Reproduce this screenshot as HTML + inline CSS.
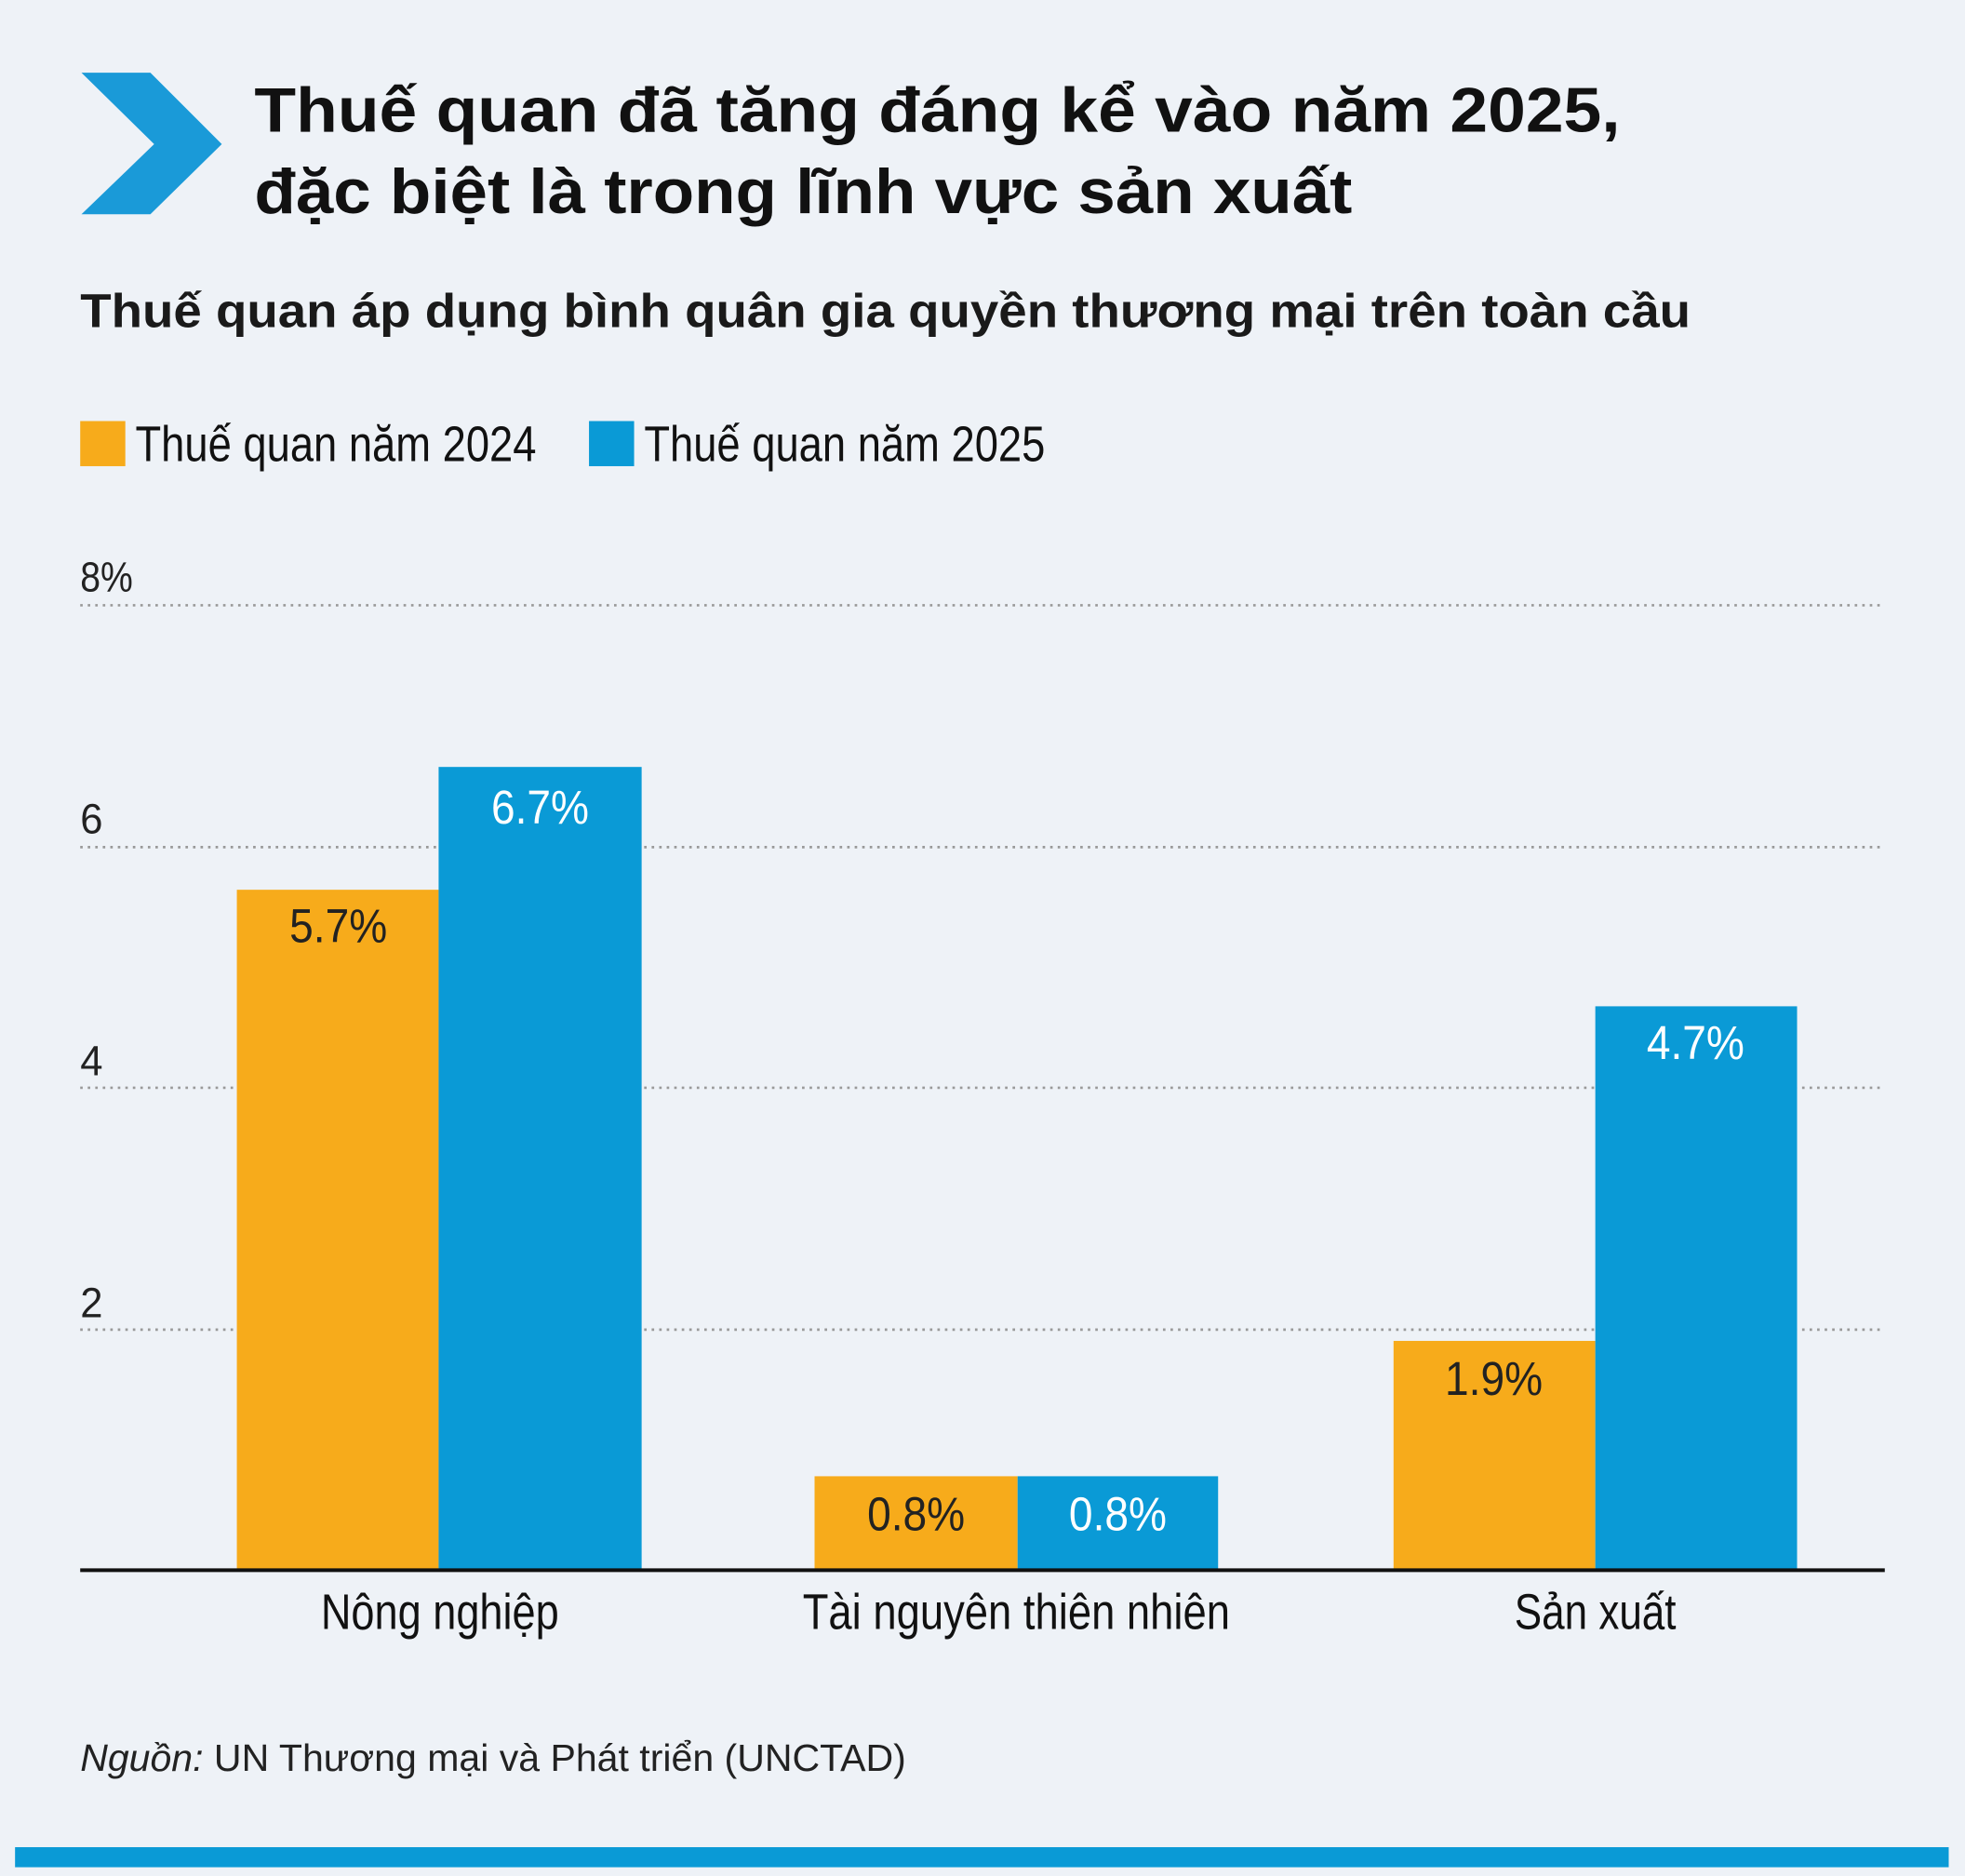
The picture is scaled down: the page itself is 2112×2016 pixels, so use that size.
<!DOCTYPE html>
<html><head><meta charset="utf-8"><style>
html,body{margin:0;padding:0;background:#eef2f7;}
svg{display:block;}
.t{font-family:"Liberation Sans","Noto Sans CJK SC",sans-serif;}
.n{font-family:"Liberation Sans Narrow","Liberation Sans",sans-serif;}
</style></head><body>
<svg width="2112" height="2016" viewBox="0 0 1568 1497" preserveAspectRatio="none" xmlns="http://www.w3.org/2000/svg">
<rect width="1568" height="1497" fill="#eef2f7"/>
<polygon points="65,58 120,58 177,115 120,171 65,171 123,115" fill="#1a9ad8"/>
<text class="t" x="203" y="105" font-size="50" font-weight="bold" fill="#111" textLength="1090" lengthAdjust="spacingAndGlyphs">Thuế quan đã tăng đáng kể vào năm 2025,</text>
<text class="t" x="203" y="170" font-size="50" font-weight="bold" fill="#111" textLength="876" lengthAdjust="spacingAndGlyphs">đặc biệt là trong lĩnh vực sản xuất</text>
<text class="t" x="64" y="261" font-size="38" font-weight="bold" fill="#1a1a1a" textLength="1285" lengthAdjust="spacingAndGlyphs">Thuế quan áp dụng bình quân gia quyền thương mại trên toàn cầu</text>
<rect x="64" y="336" width="36" height="36" fill="#f7ab1b"/>
<text class="n" x="108" y="368" font-size="40" fill="#111" textLength="320" lengthAdjust="spacingAndGlyphs">Thuế quan năm 2024</text>
<rect x="470" y="336" width="36" height="36" fill="#0a9ad6"/>
<text class="n" x="514" y="368" font-size="40" fill="#111" textLength="320" lengthAdjust="spacingAndGlyphs">Thuế quan năm 2025</text>
<g stroke="#999" stroke-width="2" stroke-dasharray="2,4">
<line x1="64" y1="483" x2="1502" y2="483"/>
<line x1="64" y1="676" x2="1502" y2="676"/>
<line x1="64" y1="868" x2="1502" y2="868"/>
<line x1="64" y1="1061" x2="1502" y2="1061"/>
</g>
<g class="n" font-size="34" fill="#222">
<text x="64" y="472" textLength="42" lengthAdjust="spacingAndGlyphs">8%</text>
<text x="64" y="665" textLength="18" lengthAdjust="spacingAndGlyphs">6</text>
<text x="64" y="858" textLength="18" lengthAdjust="spacingAndGlyphs">4</text>
<text x="64" y="1051" textLength="18" lengthAdjust="spacingAndGlyphs">2</text>
</g>
<rect x="189" y="710" width="161" height="543" fill="#f7ab1b"/>
<rect x="350" y="612" width="162" height="641" fill="#0a9ad6"/>
<rect x="650" y="1178" width="162" height="75" fill="#f7ab1b"/>
<rect x="812" y="1178" width="160" height="75" fill="#0a9ad6"/>
<rect x="1112" y="1070" width="161" height="183" fill="#f7ab1b"/>
<rect x="1273" y="803" width="161" height="450" fill="#0a9ad6"/>
<line x1="64" y1="1253" x2="1504" y2="1253" stroke="#111" stroke-width="3"/>
<g class="n" font-size="38" text-anchor="middle">
<text x="270" y="752" fill="#222" textLength="78" lengthAdjust="spacingAndGlyphs">5.7%</text>
<text x="431" y="657" fill="#fff" textLength="78" lengthAdjust="spacingAndGlyphs">6.7%</text>
<text x="731" y="1221" fill="#222" textLength="78" lengthAdjust="spacingAndGlyphs">0.8%</text>
<text x="892" y="1221" fill="#fff" textLength="78" lengthAdjust="spacingAndGlyphs">0.8%</text>
<text x="1192" y="1113" fill="#222" textLength="78" lengthAdjust="spacingAndGlyphs">1.9%</text>
<text x="1353" y="845" fill="#fff" textLength="78" lengthAdjust="spacingAndGlyphs">4.7%</text>
</g>
<g class="n" font-size="40" text-anchor="middle" fill="#111">
<text x="351" y="1300" textLength="190" lengthAdjust="spacingAndGlyphs">Nông nghiệp</text>
<text x="811" y="1300" textLength="341" lengthAdjust="spacingAndGlyphs">Tài nguyên thiên nhiên</text>
<text x="1273" y="1300" textLength="129" lengthAdjust="spacingAndGlyphs">Sản xuất</text>
</g>
<text class="t" x="64" y="1413" font-size="30" fill="#222" textLength="659" lengthAdjust="spacingAndGlyphs"><tspan font-style="italic">Nguồn:</tspan> UN Thương mại và Phát triển (UNCTAD)</text>
<rect x="12" y="1474" width="1543" height="16" fill="#0a9ad6"/>
</svg>
</body></html>
